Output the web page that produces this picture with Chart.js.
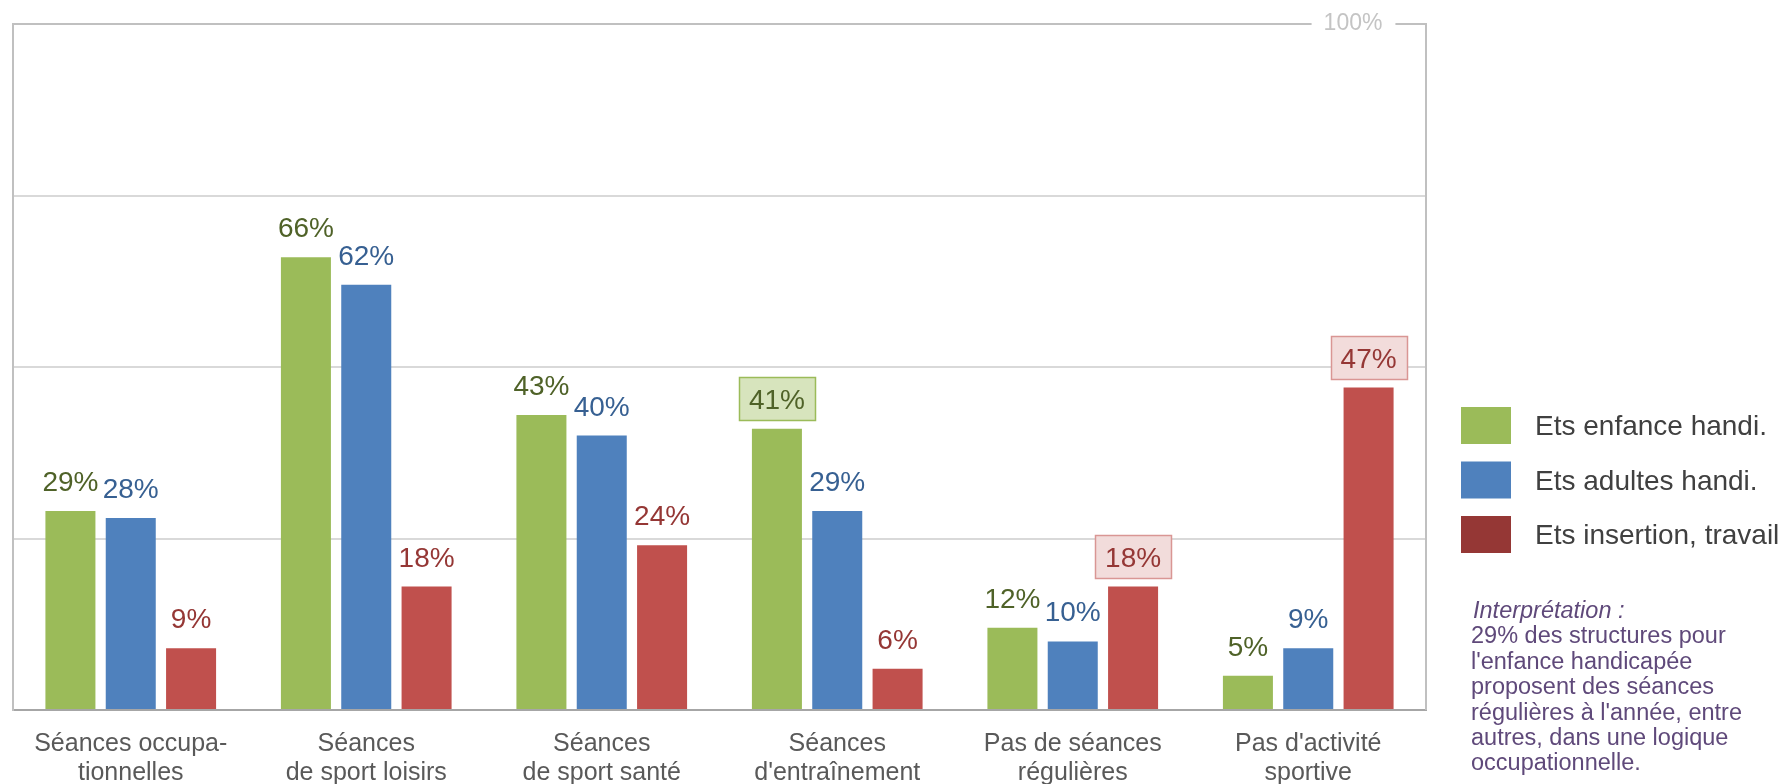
<!DOCTYPE html>
<html>
<head>
<meta charset="utf-8">
<script src="https://cdn.jsdelivr.net/npm/chart.js@4"></script>
<style>
  html, body { margin: 0; padding: 0; background: #ffffff; }
  #wrap { position: relative; width: 1789px; height: 784px; }
</style>
</head>
<body>
<div id="wrap"><canvas id="c" width="1789" height="784"></canvas></div>
<script>
const categories = [
  ["Séances occupa-", "tionnelles"],
  ["Séances", "de sport loisirs"],
  ["Séances", "de sport santé"],
  ["Séances", "d'entraînement"],
  ["Pas de séances", "régulières"],
  ["Pas d'activité", "sportive"]
];
const seriesNames = ["Ets enfance handi.", "Ets adultes handi.", "Ets insertion, travail"];
const enfance   = [29, 66, 43, 41, 12, 5];
const adultes   = [28, 62, 40, 29, 10, 9];
const insertion = [9, 18, 24, 6, 18, 47];
const yTopLabel = "100%";
const interpretationTitle = "Interprétation :";
const interpretationLines = [
  "29% des structures pour",
  "l'enfance handicapée",
  "proposent des séances",
  "régulières à l'année, entre",
  "autres, dans une logique",
  "occupationnelle."
];

const FONT = '"Liberation Sans", Arial, sans-serif';
const barColors = ["#9bbb59", "#4f81bd", "#c0504d"];
const legendColors = ["#9bbb59", "#4f81bd", "#953735"];
const labelColors = ["#4f6228", "#376092", "#953735"];
const boxFill = ["#d7e4bd", "#dbe5f1", "#f2dcdb"];
const boxStroke = ["#9bbb59", "#4f81bd", "#d99694"];
// highlighted labels: [seriesIndex, categoryIndex]
const boxed = [[0, 3], [2, 4], [2, 5]];

const valueLabels = {
  id: 'valueLabels',
  afterDatasetsDraw(chart) {
    const ctx = chart.ctx;
    ctx.save();
    ctx.font = '28px ' + FONT;
    ctx.textAlign = 'center';
    ctx.textBaseline = 'alphabetic';
    chart.data.datasets.forEach((ds, di) => {
      const meta = chart.getDatasetMeta(di);
      meta.data.forEach((el, i) => {
        const txt = ds.data[i] + '%';
        const base = el.y - 20;
        if (boxed.some(b => b[0] === di && b[1] === i)) {
          const w = ctx.measureText(txt).width;
          const x0 = Math.round(el.x - w / 2 - 10) + 0.5;
          const y0 = Math.round(base - 32) + 0.5;
          ctx.fillStyle = boxFill[di];
          ctx.fillRect(x0, y0, Math.round(w + 20), 43);
          ctx.strokeStyle = boxStroke[di];
          ctx.lineWidth = 1.5;
          ctx.strokeRect(x0, y0, Math.round(w + 20), 43);
        }
        ctx.fillStyle = labelColors[di];
        ctx.fillText(txt, el.x, base);
      });
    });
    ctx.restore();
  }
};

const frame = {
  id: 'frame',
  afterDraw(chart) {
    const ctx = chart.ctx;
    const a = chart.chartArea;
    ctx.save();
    // right border
    ctx.strokeStyle = '#c0c0c0';
    ctx.lineWidth = 2;
    ctx.beginPath();
    ctx.moveTo(a.right, a.top - 1);
    ctx.lineTo(a.right, a.bottom);
    ctx.stroke();
    // 100% label breaking the top line
    ctx.font = '23px ' + FONT;
    const tw = ctx.measureText(yTopLabel).width;
    const cx = a.right - 73;
    ctx.fillStyle = '#ffffff';
    ctx.fillRect(cx - tw / 2 - 12, a.top - 4, tw + 25, 8);
    ctx.fillStyle = '#c4c4c4';
    ctx.textAlign = 'center';
    ctx.textBaseline = 'alphabetic';
    ctx.fillText(yTopLabel, cx, a.top + 6);

    // legend
    chart.data.datasets.forEach((ds, i) => {
      const y = 407 + i * 54.5;
      ctx.fillStyle = legendColors[i];
      ctx.fillRect(1461, y, 50, 37);
      ctx.fillStyle = '#404040';
      ctx.font = '28px ' + FONT;
      ctx.textAlign = 'left';
      ctx.fillText(ds.label, 1535, y + 28);
    });

    // interpretation
    ctx.fillStyle = '#5f497a';
    ctx.textAlign = 'left';
    ctx.font = 'italic 23.5px ' + FONT;
    ctx.fillText(interpretationTitle, 1473, 618);
    ctx.font = '23.5px ' + FONT;
    interpretationLines.forEach((l, i) => {
      ctx.fillText(l, 1471, 618 + (i + 1) * 25.4);
    });
    ctx.restore();
  }
};

new Chart(document.getElementById('c'), {
  type: 'bar',
  data: {
    labels: categories,
    datasets: [
      { label: seriesNames[0], data: enfance, backgroundColor: barColors[0] },
      { label: seriesNames[1], data: adultes, backgroundColor: barColors[1] },
      { label: seriesNames[2], data: insertion, backgroundColor: barColors[2] }
    ]
  },
  options: {
    responsive: false,
    animation: false,
    devicePixelRatio: 1,
    categoryPercentage: 0.7685,
    barPercentage: 0.829,
    layout: { padding: { left: 13, right: 363, top: 24, bottom: 0 } },
    plugins: { legend: { display: false }, tooltip: { enabled: false } },
    scales: {
      x: {
        grid: { display: false, drawTicks: false },
        border: { display: true, color: '#a6a6a6', width: 2 },
        ticks: { color: '#595959', padding: 19.5, font: { family: FONT, size: 25, lineHeight: 1.15 }, maxRotation: 0, autoSkip: false },
        afterFit: (s) => { s.height = 74; }
      },
      y: {
        min: 0, max: 100,
        ticks: { display: false, stepSize: 25 },
        grid: {
          drawTicks: false, tickLength: 0, lineWidth: 2,
          color: (c) => c.tick.value === 100 ? '#c0c0c0' : (c.tick.value === 0 ? '#a6a6a6' : '#d9d9d9')
        },
        border: { display: true, color: '#c0c0c0', width: 2 }
      }
    }
  },
  plugins: [valueLabels, frame]
});
</script>
</body>
</html>
